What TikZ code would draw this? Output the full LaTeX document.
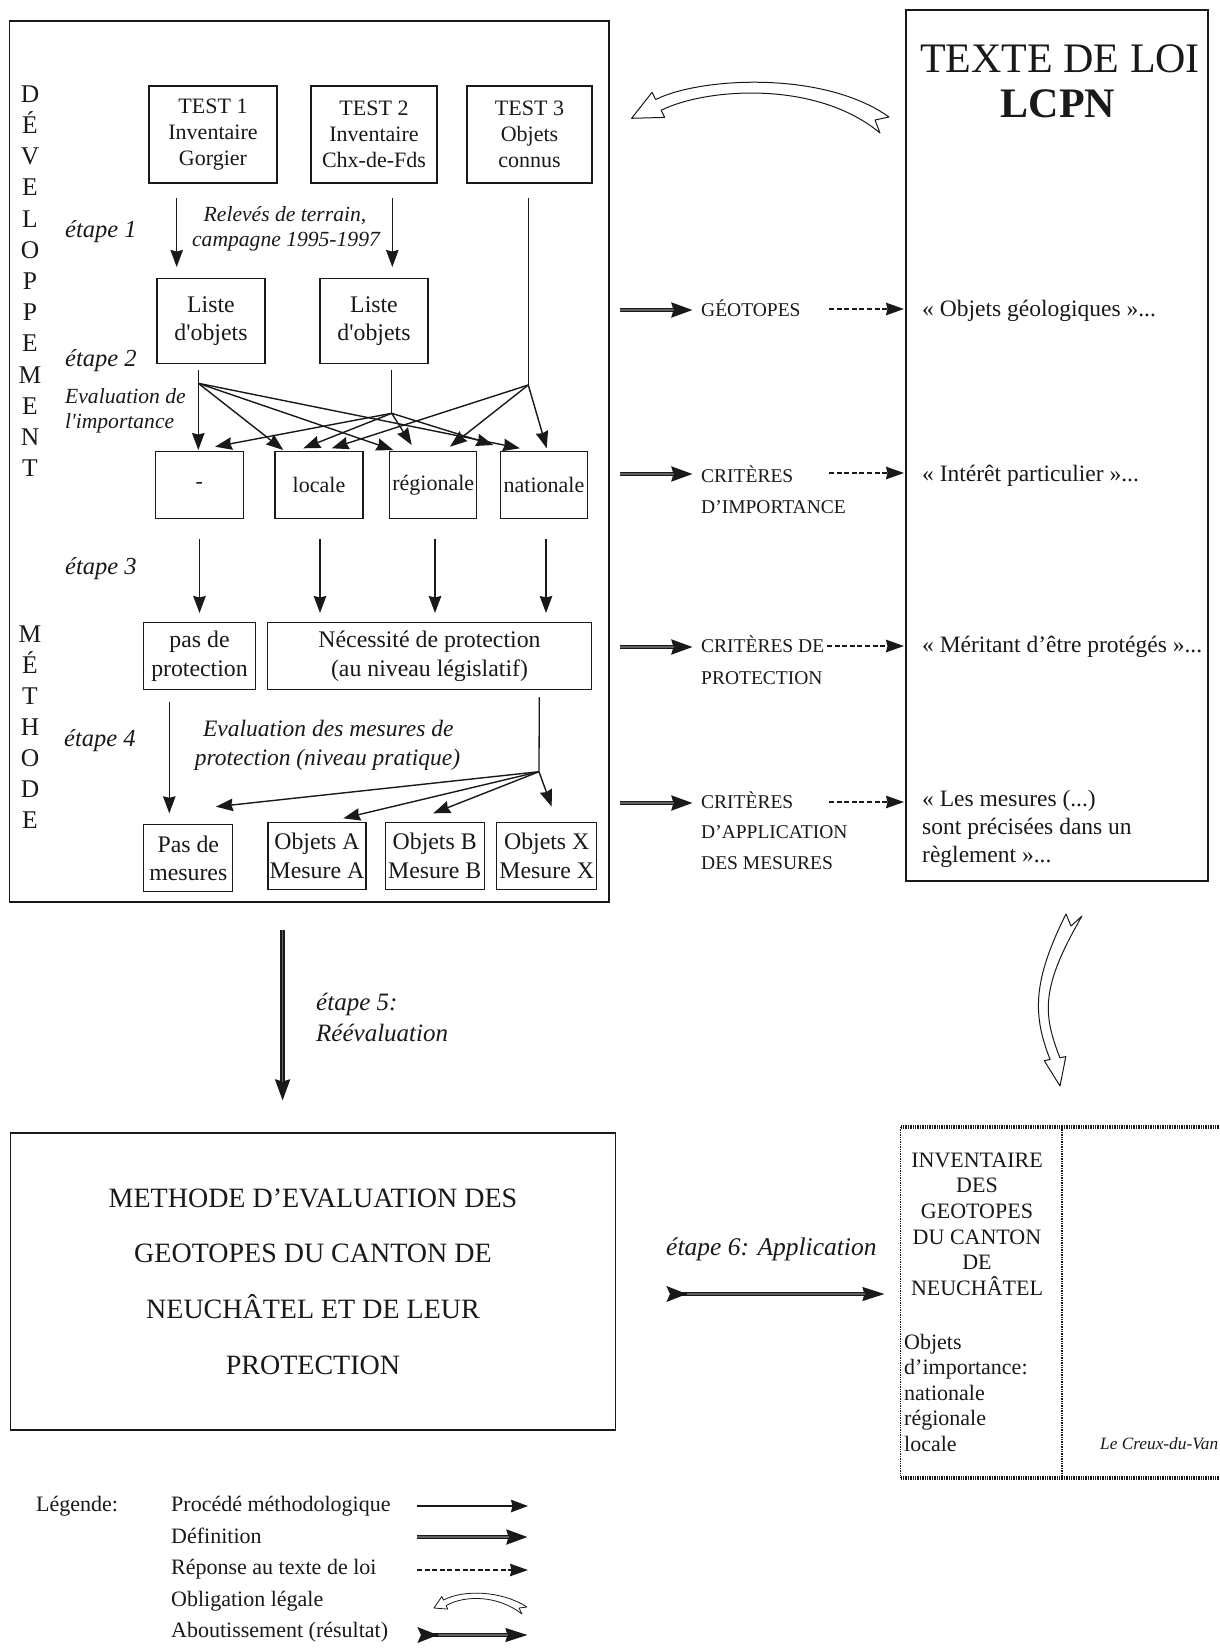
\documentclass[tikz,border=0pt]{standalone}
\usepackage{fontspec}
\setmainfont{Liberation Serif}
\usetikzlibrary{arrows.meta}
\definecolor{ink}{gray}{0.1}
\tikzset{
  box/.style={draw=ink, line width=1.3pt, inner sep=0pt, align=center, text=ink},
  fa/.style={font=\fontsize{22pt}{26pt}\selectfont},
  fb/.style={font=\fontsize{23.8pt}{28.5pt}\selectfont},
  lab/.style={inner sep=0pt, text=ink, anchor=base west},
  labc/.style={inner sep=0pt, text=ink, anchor=base},
  etp/.style={font=\fontsize{24.5pt}{28pt}\selectfont\itshape},
  itsm/.style={font=\fontsize{21.6pt}{25pt}\selectfont\itshape},
  itmd/.style={font=\fontsize{23.5pt}{28pt}\selectfont\itshape},
  caps/.style={font=\fontsize{19.5pt}{23pt}\selectfont},
  quot/.style={font=\fontsize{23.5pt}{28pt}\selectfont},
  vletter/.style={inner sep=0pt, text=ink, anchor=base, font=\fontsize{25.5pt}{30pt}\selectfont},
  plainline/.style={draw=ink, line width=1.3pt},
  proc/.style={draw=ink, line width=1.4pt, -{Stealth[length=17pt,width=12.5pt,inset=1.5pt]}},
  defarr/.style={draw=ink, line width=4.8pt, -{Stealth[length=21pt,width=14pt,inset=1.5pt]},
    postaction={draw=black!62, line width=1.2pt, -, shorten >=19pt}},
  resp/.style={draw=ink, line width=1.6pt, dash pattern=on 5pt off 2.6pt, -{Stealth[length=18pt,width=12.5pt,inset=1.5pt]}},
  result/.style={draw=ink, line width=4.3pt, {Stealth[reversed,length=20pt,width=15pt,inset=3pt]}-{Stealth[length=22pt,width=13pt,inset=1.5pt]},
    postaction={draw=black!62, line width=1.1pt, -, shorten >=20pt, shorten <=20pt}},
  oblig/.style={draw=ink, line width=1pt, fill=white, line join=round},
  invthick/.style={draw=ink, line width=4pt, dash pattern=on 1.4pt off 1pt},
  invthin/.style={draw=ink, line width=1.6pt, dash pattern=on 1.3pt off 1.1pt}
}
\begin{document}
\begin{tikzpicture}[x=1pt,y=-1pt]
\useasboundingbox (0,0) rectangle (1219,1652);
\clip (0,0) rectangle (1219,1652);
\fill[white] (0,0) rectangle (1219,1652);

% ---------- frames ----------
\node[box, minimum width=599.5pt, minimum height=881pt] (main) at (309.25,461.5) {};
\node[box, minimum width=302pt, minimum height=871pt] (law) at (1057,445.5) {};
\node[box, minimum width=605pt, minimum height=297pt,
      font=\fontsize{28pt}{55.7pt}\selectfont] (meth) at (313,1281.5)
  {METHODE D’EVALUATION DES\\GEOTOPES DU CANTON DE\\NEUCHÂTEL ET DE LEUR\\PROTECTION};

% ---------- vertical words ----------
\foreach \l [count=\i from 0] in {D,É,V,E,L,O,P,P,E,M,E,N,T}
  \node[vletter] (dv\i) at (30,{102.2+31.2*\i}) {\l};
\foreach \l [count=\i from 0] in {M,É,T,H,O,D,E}
  \node[vletter] (me\i) at (30,{642.3+31.1*\i}) {\l};

% ---------- boxes ----------
\node[box,fa,minimum width=128pt,minimum height=97pt] (t1) at (213,134.5) {TEST 1\\Inventaire\\Gorgier};
\node[box,fa,minimum width=126pt,minimum height=97pt] (t2) at (374,134.5) {TEST 2\\Inventaire\\Chx-de-Fds};
\node[box,fa,minimum width=125pt,minimum height=97pt] (t3) at (529.5,134.5) {TEST 3\\Objets\\connus};
\node[box,fb,minimum width=108pt,minimum height=85pt] (l1) at (211,321) {Liste\\d\textquotesingle objets};
\node[box,fb,minimum width=108pt,minimum height=85pt] (l2) at (374,321) {Liste\\d\textquotesingle objets};

\node[box,fa,minimum width=88pt,minimum height=67pt] (n0) at (199.2,485) {-};
\node[box,fa,minimum width=88pt,minimum height=67pt] (n1) at (319,485) {locale};
\node[box,fa,minimum width=87pt,minimum height=67pt] (n2) at (433.3,485) {régionale};
\node[box,fa,minimum width=87pt,minimum height=67pt] (n3) at (544,485) {nationale};

\node[box,fb,minimum width=112pt,minimum height=67pt] (pp) at (199.5,656.3) {pas de\\protection};
\node[box,fb,minimum width=324pt,minimum height=67pt] (nec) at (429.5,656.3) {Nécessité de protection\\(au niveau législatif)};

\node[box,fb,minimum width=89pt,minimum height=67pt] (pm) at (188.3,858.3) {Pas de\\mesures};
\node[box,fb,minimum width=98pt,minimum height=67pt] (oa) at (317,856) {Objets A\\Mesure A};
\node[box,fb,minimum width=99pt,minimum height=67pt] (ob) at (434.7,856) {Objets B\\Mesure B};
\node[box,fb,minimum width=100pt,minimum height=67pt] (ox) at (546.7,856) {Objets X\\Mesure X};

% ---------- step labels ----------
\node[lab,etp] (e1) at (65,237) {étape 1};
\node[lab,etp] (e2) at (65,366) {étape 2};
\node[lab,etp] (e3) at (65,574) {étape 3};
\node[lab,etp] (e4) at (64,746) {étape 4};
\node[lab,itsm] (ev1) at (65,403.3) {Evaluation de};
\node[lab,itsm] (ev2) at (65,428.3) {l\textquotesingle importance};
\node[labc,itsm] (rl1) at (285,221.7) {Relevés de terrain,};
\node[labc,itsm] (rl2) at (286,246.7) {campagne 1995-1997};
\node[labc,itmd] (em1) at (328.3,736.7) {Evaluation des mesures de};
\node[labc,itmd] (em2) at (327.5,765) {protection (niveau pratique)};

% ---------- step 1 arrows ----------
\coordinate (a1s) at (176.7,198); \coordinate (a1e) at (176.7,267);
\coordinate (a2s) at (392.3,198); \coordinate (a2e) at (392.3,267);
\draw[proc] (a1s) -- (a1e);
\draw[proc] (a2s) -- (a2e);

% ---------- step 2 branches ----------
\coordinate (l1s) at (198.3,370); \coordinate (b1) at (198.3,383.3);
\coordinate (l2s) at (391.7,370); \coordinate (b2) at (391.7,413.3);
\coordinate (t3s) at (528.3,198); \coordinate (b3) at (528.3,385);
\draw[plainline] (l1s) -- (b1);
\draw[plainline] (l2s) -- (b2);
\draw[plainline] (t3s) -- (b3);
\coordinate (b1a) at (198.3,450); \coordinate (b1b) at (283.3,450);
\coordinate (b1c) at (393.3,450); \coordinate (b1d) at (520,448.3);
\coordinate (b2a) at (215,446.7); \coordinate (b2b) at (303.3,448.3);
\coordinate (b2c) at (411.7,445); \coordinate (b2d) at (493.3,445);
\coordinate (b3b) at (331.7,448.3); \coordinate (b3c) at (450,446.7);
\coordinate (b3d) at (546.7,448.3);
\foreach \t in {b1a,b1b,b1c,b1d} \draw[proc] (b1) -- (\t);
\foreach \t in {b2a,b2b,b2c,b2d} \draw[proc] (b2) -- (\t);
\foreach \t in {b3b,b3c,b3d} \draw[proc] (b3) -- (\t);

% ---------- step 3 arrows ----------
\foreach \x [count=\i] in {199.5,320,435,546} {
  \coordinate (s3s\i) at (\x,539); \coordinate (s3e\i) at (\x,613);
  \draw[proc] (s3s\i) -- (s3e\i);
}

% ---------- step 4 arrows ----------
\coordinate (ppS) at (169.3,701.7); \coordinate (ppE) at (169.3,813.3);
\draw[proc] (ppS) -- (ppE);
\coordinate (necS) at (539.3,697); \coordinate (b4) at (539,771.7);
\draw[plainline] (necS) -- (b4);
\coordinate (b4a) at (216,806.7); \coordinate (b4b) at (343.3,818.3);
\coordinate (b4c) at (433.3,813.3); \coordinate (b4d) at (551.7,806.7);
\foreach \t in {b4a,b4b,b4c,b4d} \draw[proc] (b4) -- (\t);

% ---------- law box texts ----------
\node[labc,font=\fontsize{42pt}{48pt}\selectfont] (loi) at (1060,72) {TEXTE DE LOI};
\node[labc,font=\fontsize{42pt}{48pt}\selectfont\bfseries] (lcpn) at (1058,117) {LCPN};

% obligation arrow (top)
\draw[oblig] (631.6,118.3) -- (652,92.4) -- (655.7,99.5)
  .. controls (700.3,77.2) and (823.7,70.3) .. (889,117) -- (875,120) -- (880,133)
  .. controls (816.3,79.7) and (705.7,88) .. (661.1,110.3) -- (664.7,117.4) -- cycle;

% ---------- definitions / criteria ----------
\foreach \y [count=\i] in {310,474,647,803} {
  \coordinate (ds\i) at (620,\y); \coordinate (de\i) at (693,\y);
  \draw[defarr] (ds\i) -- (de\i);
}
\foreach \y/\x [count=\i] in {309/829,473/829,646/827,802/829} {
  \coordinate (rs\i) at (\x,\y); \coordinate (re\i) at (904,\y);
  \draw[resp] (rs\i) -- (re\i);
}
\node[lab,caps] (c1) at (701,316.7) {GÉOTOPES};
\node[lab,caps] (c2a) at (701,482) {CRITÈRES};
\node[lab,caps] (c2b) at (701,513) {D’IMPORTANCE};
\node[lab,caps] (c3a) at (701,652) {CRITÈRES DE};
\node[lab,caps] (c3b) at (701,684) {PROTECTION};
\node[lab,caps] (c4a) at (701,808) {CRITÈRES};
\node[lab,caps] (c4b) at (701,838) {D’APPLICATION};
\node[lab,caps] (c4c) at (701,869) {DES MESURES};

\node[lab,quot] (q1) at (922,316.7) {« Objets géologiques »...};
\node[lab,quot] (q2) at (922,481.5) {« Intérêt particulier »...};
\node[lab,quot] (q3) at (922,652) {« Méritant d’être protégés »...};
\node[lab,quot] (q4a) at (922,806) {« Les mesures (...)};
\node[lab,quot] (q4b) at (922,834.5) {sont précisées dans un};
\node[lab,quot] (q4c) at (922,862) {règlement »...};

% ---------- step 5 ----------
\coordinate (e5s) at (282.6,930); \coordinate (e5e) at (282.6,1101);
\draw[defarr] (e5s) -- (e5e);
\node[lab,font=\fontsize{25pt}{30pt}\selectfont\itshape] (e5a) at (316,1010) {étape 5:};
\node[lab,font=\fontsize{25pt}{30pt}\selectfont\itshape] (e5b) at (316,1041.7) {Réévaluation};

% obligation arrow (right, downward)
\draw[oblig] (1060,1086) -- (1044.2,1060.6) -- (1050.1,1059.5)
  .. controls (1033.1,1015.9) and (1031.7,982.5) .. (1066,914) -- (1071,926) -- (1082,916)
  .. controls (1040.3,987.5) and (1042.9,1014.1) .. (1059.9,1057.7) -- (1065.8,1056.6) -- cycle;

% ---------- step 6 ----------
\node[lab,font=\fontsize{25.5pt}{30pt}\selectfont\itshape] (e6) at (666,1255) {étape 6: Application};
\coordinate (e6s) at (667,1294); \coordinate (e6e) at (885,1294);
\draw[result] (e6s) -- (e6e);

% ---------- inventory ----------
\coordinate (inw) at (900.5,1127); \coordinate (ine) at (1235,1127);
\coordinate (isw) at (900.5,1478); \coordinate (ise) at (1235,1478);
\coordinate (idn) at (1062,1127); \coordinate (ids) at (1062,1478);
\draw[invthick] (inw) -- (ine);
\draw[invthick] (isw) -- (ise);
\draw[invthin] (inw) -- (isw);
\draw[invthin] (idn) -- (ids);
\foreach \t [count=\i from 0] in {INVENTAIRE,DES,GEOTOPES,DU CANTON,DE,NEUCHÂTEL}
  \node[labc,fa] (iv\i) at (977,{1167+25.7*\i}) {\t};
\foreach \t [count=\i from 0] in {Objets,d’importance:,nationale,régionale,locale}
  \node[lab,fa] (io\i) at (904,{1349+25.6*\i}) {\t};
\node[lab,font=\fontsize{17.3pt}{20pt}\selectfont\itshape] (creux) at (1100,1449) {Le Creux-du-Van};

% ---------- legend ----------
\node[lab,fa] (leg) at (36,1511.5) {Légende:};
\node[lab,fa] (lg1) at (171,1511.5) {Procédé méthodologique};
\node[lab,fa] (lg2) at (171,1543) {Définition};
\node[lab,fa] (lg3) at (171,1574.5) {Réponse au texte de loi};
\node[lab,fa] (lg4) at (171,1606) {Obligation légale};
\node[lab,fa] (lg5) at (171,1637.5) {Aboutissement (résultat)};
\coordinate (la1) at (417,1506); \coordinate (lb1) at (528,1506);
\coordinate (la2) at (417,1537); \coordinate (lb2) at (528,1537);
\coordinate (la3) at (417,1570); \coordinate (lb3) at (528,1570);
\coordinate (la5) at (418,1635); \coordinate (lb5) at (528,1635);
\draw[proc] (la1) -- (lb1);
\draw[defarr] (la2) -- (lb2);
\draw[resp] (la3) -- (lb3);
\draw[result] (la5) -- (lb5);
\draw[oblig, line width=0.8pt] (434,1608) -- (441.8,1596.5) -- (443.5,1600.1)
  .. controls (463,1589.3) and (501.8,1590.6) .. (527,1607) -- (519,1608) -- (522,1614)
  .. controls (498.2,1595.4) and (465.6,1594.7) .. (446.1,1605.5) -- (447.8,1609.1) -- cycle;
\end{tikzpicture}
\end{document}
